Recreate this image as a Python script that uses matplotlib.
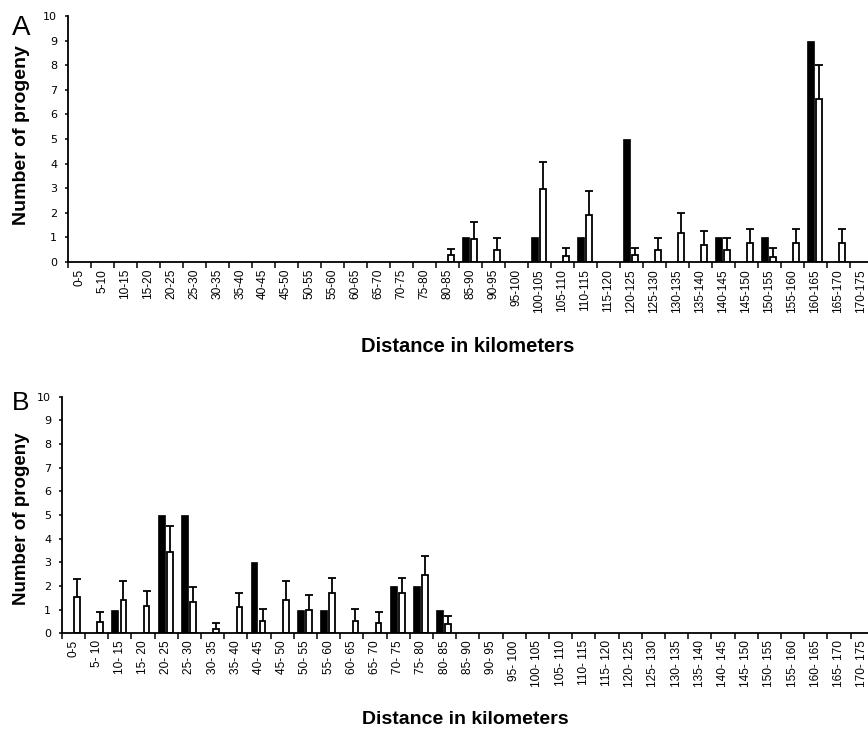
import numpy as np
import matplotlib
matplotlib.use("Agg")
import matplotlib.pyplot as plt

plt.rcParams['font.family'] = ['Liberation Sans', 'DejaVu Sans']

labels_a = ["0-5", "5-10", "10-15", "15-20", "20-25", "25-30", "30-35", "35-40",
            "40-45", "45-50", "50-55", "55-60", "60-65", "65-70", "70-75", "75-80",
            "80-85", "85-90", "90-95", "95-100", "100-105", "105-110", "110-115",
            "115-120", "120-125", "125-130", "130-135", "135-140", "140-145",
            "145-150", "150-155", "155-160", "160-165", "165-170", "170-175"]
labels_b = ["0-5", "5- 10", "10- 15", "15- 20", "20- 25", "25- 30", "30- 35", "35- 40",
            "40- 45", "45- 50", "50- 55", "55- 60", "60- 65", "65- 70", "70- 75", "75- 80",
            "80- 85", "85- 90", "90- 95", "95- 100", "100- 105", "105- 110", "110- 115",
            "115- 120", "120- 125", "125- 130", "130- 135", "135- 140", "140- 145",
            "145- 150", "150- 155", "155- 160", "160- 165", "165- 170", "170- 175"]

# panel A: observed (black) and expected (white, with SD)
obs_a = [0, 0, 0, 0, 0, 0, 0, 0, 0, 0, 0, 0, 0, 0, 0, 0,
         0, 1, 0, 0, 1, 0, 1, 0, 5, 0, 0, 0, 1, 0, 1, 0, 9, 0, 0]
exp_a = [0, 0, 0, 0, 0, 0, 0, 0, 0, 0, 0, 0, 0, 0, 0, 0,
         0.27, 0.95, 0.5, 0, 2.96, 0.24, 1.9, 0, 0.27, 0.5, 1.19, 0.71, 0.5,
         0.77, 0.2, 0.77, 6.62, 0.77, 0]
err_a = [0, 0, 0, 0, 0, 0, 0, 0, 0, 0, 0, 0, 0, 0, 0, 0,
         0.27, 0.68, 0.48, 0, 1.11, 0.33, 0.98, 0, 0.3, 0.48, 0.79, 0.57, 0.48,
         0.56, 0.37, 0.56, 1.38, 0.56, 0]

# panel B
obs_b = [0, 0, 1, 0, 5, 5, 0, 0, 3, 0, 1, 1, 0, 0, 2, 2, 1,
         0, 0, 0, 0, 0, 0, 0, 0, 0, 0, 0, 0, 0, 0, 0, 0, 0, 0]
exp_b = [1.55, 0.46, 1.41, 1.15, 3.44, 1.34, 0.17, 1.13, 0.54, 1.41, 0.99, 1.69,
         0.54, 0.42, 1.69, 2.45, 0.38,
         0, 0, 0, 0, 0, 0, 0, 0, 0, 0, 0, 0, 0, 0, 0, 0, 0, 0]
err_b = [0.73, 0.43, 0.8, 0.62, 1.1, 0.63, 0.28, 0.56, 0.5, 0.8, 0.61, 0.63,
         0.5, 0.47, 0.63, 0.83, 0.35,
         0, 0, 0, 0, 0, 0, 0, 0, 0, 0, 0, 0, 0, 0, 0, 0, 0, 0]


def panel(ax, labels, obs, exp, err):
    obs = np.array(obs, float)
    exp = np.array(exp, float)
    err = np.array(err, float)
    idx = np.arange(len(labels))
    ax.bar(idx + 0.29, obs, width=0.29, color='black', edgecolor='black',
           linewidth=0.5, zorder=2)
    m = exp > 0
    ax.bar(idx[m] + 0.66, exp[m], width=0.24, color='white', edgecolor='black',
           linewidth=1.3, zorder=2)
    eb = ax.errorbar(idx[m] + 0.66, exp[m], yerr=[np.zeros(m.sum()), err[m]],
                     fmt='none', ecolor='black', elinewidth=1.3, capsize=3,
                     capthick=1.3, zorder=3)
    eb[1][0].set_visible(False)

    ax.set_xlim(0, len(labels))
    ax.set_ylim(0, 10)
    for s in ['top', 'right']:
        ax.spines[s].set_visible(False)
    for s in ['left', 'bottom']:
        ax.spines[s].set_linewidth(1.3)
    ax.spines['bottom'].set_zorder(4)

    ax.set_yticks(range(11))
    ax.set_yticklabels([str(v) for v in range(11)], family='DejaVu Sans', fontsize=8)
    ax.tick_params(axis='y', direction='out', length=2.5, width=1.1, pad=5)

    ax.set_xticks(np.arange(len(labels) + 1))
    ax.set_xticklabels([])
    ax.tick_params(axis='x', which='major', direction='out', length=4, width=1.1)
    ax.set_xticks(idx + 0.5, labels, minor=True, rotation=90, fontsize=8.6)
    ax.tick_params(axis='x', which='minor', length=0, pad=5)


fig = plt.figure(figsize=(8.68, 7.32), dpi=100)
ax_a = fig.add_axes([0.078, 0.642, 0.9274, 0.336])
ax_b = fig.add_axes([0.0711, 0.1348, 0.9355, 0.3232])

panel(ax_a, labels_a, obs_a, exp_a, err_a)
panel(ax_b, labels_b, obs_b, exp_b, err_b)

fig.text(0.0253, 0.816, 'Number of progeny', rotation=90, ha='center', va='center',
         fontsize=14, fontweight='bold')
fig.text(0.0253, 0.291, 'Number of progeny', rotation=90, ha='center', va='center',
         fontsize=13.5, fontweight='bold')
fig.text(0.539, 0.526, 'Distance in kilometers', ha='center', va='center',
         fontsize=14.5, fontweight='bold')
fig.text(0.536, 0.0164, 'Distance in kilometers', ha='center', va='center',
         fontsize=14, fontweight='bold')
fig.text(0.0138, 0.952, 'A', fontsize=20, va='baseline')
fig.text(0.0138, 0.44, 'B', fontsize=19, va='baseline')

fig.savefig('out.png', dpi=100)
